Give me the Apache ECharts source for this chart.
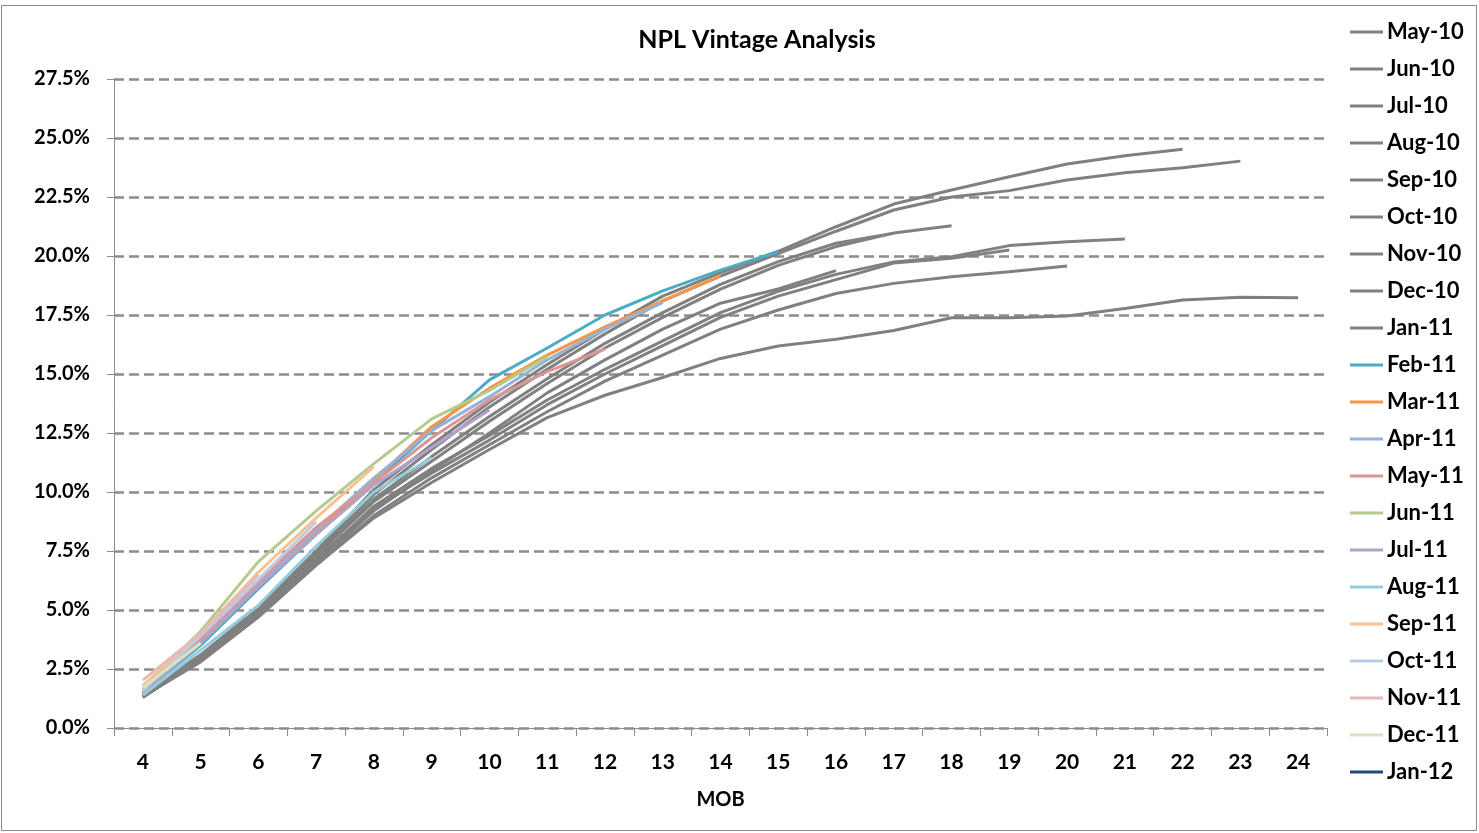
<!DOCTYPE html>
<html lang="en">
<head>
    <meta charset="UTF-8">
    <title>NPL Vintage Analysis</title>
    <script src="https://cdn.jsdelivr.net/npm/echarts@6/dist/echarts.min.js"></script>
    <style>
        html, body { margin: 0; padding: 0; background: #fff; }
        #frame {
            position: absolute;
            left: 1px; top: 5px;
            width: 1476px; height: 826px;
            border: 1px solid #8c8c8c;
            box-sizing: border-box;
        }
        #charts { position: absolute; left: 0; top: 0; width: 1479px; height: 833px; }
    </style>
</head>
<body>
<div id="frame"></div>
<div id="charts"></div>
<script>
    // months on book
    var mob = ['4','5','6','7','8','9','10','11','12','13','14','15','16','17','18','19','20','21','22','23','24'];
    var vintages = ['May-10','Jun-10','Jul-10','Aug-10','Sep-10','Oct-10','Nov-10','Dec-10','Jan-11',
                    'Feb-11','Mar-11','Apr-11','May-11','Jun-11','Jul-11','Aug-11','Sep-11','Oct-11','Nov-11','Dec-11','Jan-12'];

    // cumulative NPL rate (%) per vintage, starting at MOB 4
    var may10 = [1.35, 2.85, 4.75, 6.9, 8.9, 10.4, 11.8, 13.15, 14.1, 14.85, 15.66, 16.19, 16.47, 16.84, 17.38, 17.38, 17.46, 17.78, 18.14, 18.25, 18.23];
    var jun10 = [1.4, 3.05, 5.0, 7.4, 9.9, 11.8, 13.6, 15.2, 16.7, 18.1, 19.15, 20.1, 21.05, 21.95, 22.5, 22.77, 23.22, 23.53, 23.74, 24.02];
    var jul10 = [1.45, 3.1, 5.1, 7.5, 10.1, 12.0, 13.8, 15.4, 16.9, 18.3, 19.3, 20.2, 21.24, 22.2, 22.8, 23.36, 23.9, 24.25, 24.52];
    var aug10 = [1.3, 2.9, 4.8, 7.1, 9.4, 11.0, 12.4, 13.9, 15.2, 16.4, 17.6, 18.5, 19.22, 19.75, 19.97, 20.44, 20.6, 20.72];
    var sep10 = [1.35, 2.8, 4.7, 6.9, 9.0, 10.6, 12.0, 13.4, 14.7, 15.8, 16.9, 17.71, 18.41, 18.84, 19.12, 19.33, 19.58];
    var oct10 = [1.3, 2.95, 4.9, 7.2, 9.3, 10.8, 12.2, 13.7, 15.0, 16.2, 17.4, 18.3, 19.0, 19.7, 19.9, 20.25];
    var nov10 = [1.4, 3.0, 5.0, 7.3, 9.7, 11.5, 13.2, 14.8, 16.3, 17.6, 18.8, 19.76, 20.54, 20.97, 21.28];
    var dec10 = [1.35, 3.0, 4.9, 7.3, 9.6, 11.3, 13.0, 14.6, 16.1, 17.4, 18.6, 19.6, 20.4, 20.97];
    var jan11 = [1.3, 2.9, 4.85, 7.0, 9.2, 10.9, 12.5, 14.2, 15.6, 16.9, 18.0, 18.6, 19.38];
    var feb11 = [1.5, 3.5, 5.9, 8.2, 10.4, 12.6, 14.75, 16.1, 17.5, 18.52, 19.4, 20.18];
    var mar11 = [1.6, 3.6, 6.0, 8.3, 10.5, 12.77, 14.4, 15.8, 17.0, 18.1, 19.17];
    var apr11 = [1.5, 3.7, 6.1, 8.4, 10.6, 12.6, 14.04, 15.6, 16.9, 18.02];
    var may11 = [1.6, 3.8, 6.2, 8.5, 10.4, 12.3, 13.9, 15.1, 16.06];
    var jun11 = [1.7, 4.1, 7.05, 9.2, 11.2, 13.1, 14.3, 15.73];
    var jul11 = [1.5, 3.6, 6.0, 8.2, 10.3, 11.9, 13.47];
    var aug11 = [1.4, 3.3, 5.2, 7.7, 10.0, 11.45];
    var sep11 = [1.8, 4.0, 6.6, 8.9, 11.07];
    var oct11 = [1.6, 3.9, 6.3, 8.74];
    var nov11 = [2.03, 4.0, 6.5];
    var dec11 = [1.7, 3.6];
    var jan12 = [1.5];

    var values = [may10, jun10, jul10, aug10, sep10, oct10, nov10, dec10, jan11,
                  feb11, mar11, apr11, may11, jun11, jul11, aug11, sep11, oct11, nov11, dec11, jan12];
    var yTicks = ['0.0%','2.5%','5.0%','7.5%','10.0%','12.5%','15.0%','17.5%','20.0%','22.5%','25.0%','27.5%'];

    var colors = ['#808080','#808080','#808080','#808080','#808080','#808080','#808080','#808080','#808080',
                  '#4bacc6','#f79646','#95b3d7','#d99694','#b3cb8e','#b3a2c7','#93cddd','#fac090','#b9cde5','#e6b9b8','#d7e4bd','#1f497d'];

    var font = 'Lato, "Liberation Sans", sans-serif';

    var series = [];
    for (var i = 0; i < vintages.length; i++) {
        series.push({
            name: vintages[i],
            type: 'line',
            data: values[i],
            showSymbol: false,
            symbol: 'none',
            lineStyle: { width: 3, color: colors[i] },
            itemStyle: { color: colors[i] }
        });
    }

    var myChart = echarts.init(document.getElementById('charts'));
    var option = {
        animation: false,
        title: {
            text: 'NPL Vintage Analysis',
            left: 752,
            textAlign: 'center',
            top: 22,
            textStyle: { fontFamily: font, fontWeight: 'bold', fontSize: 25, color: '#000' }
        },
        legend: {
            orient: 'vertical',
            left: 1350,
            top: 21,
            padding: 0,
            icon: 'rect',
            itemWidth: 33,
            itemHeight: 3,
            itemGap: 15,
            data: vintages,
            textStyle: { fontFamily: font, fontWeight: 'bold', fontSize: 22, color: '#000', padding: [0, 0, 0, -1] }
        },
        grid: { left: 114, right: 152, top: 79, bottom: 105 },
        xAxis: {
            type: 'category',
            data: mob,
            boundaryGap: true,
            name: 'MOB',
            nameLocation: 'middle',
            nameGap: 62,
            nameTextStyle: { fontFamily: font, fontWeight: 'bold', fontSize: 20, color: '#000' },
            axisLine: { lineStyle: { color: '#8c8c8c', width: 1 } },
            axisTick: { show: true, alignWithLabel: false, length: 8, lineStyle: { color: '#8c8c8c' } },
            axisLabel: { fontFamily: font, fontWeight: 'bold', fontSize: 21, color: '#000', margin: 24 },
            splitLine: { show: false }
        },
        yAxis: {
            type: 'value',
            min: 0,
            max: 27.5,
            interval: 2.5,
            axisLine: { show: true, lineStyle: { color: '#8c8c8c', width: 1 } },
            axisTick: { show: true, inside: false, length: 7, lineStyle: { color: '#8c8c8c' } },
            axisLabel: {
                fontFamily: font, fontWeight: 'bold', fontSize: 20, color: '#000', margin: 24,
                formatter: function (v) { return yTicks[Math.round(v / 2.5)]; }
            },
            splitLine: { show: true, lineStyle: { color: '#8c8c8c', width: 2.5, type: [10, 5] } }
        },
        series: series
    };
    myChart.setOption(option);
</script>
</body>
</html>
